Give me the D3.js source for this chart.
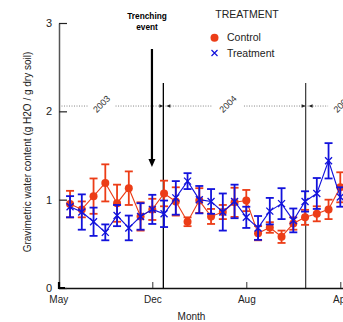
<!DOCTYPE html>
<html>
<head>
<meta charset="utf-8">
<script src="https://cdn.jsdelivr.net/npm/d3@7/dist/d3.min.js"></script>
<style>
  body { margin: 0; background: #fff; }
  svg { display: block; font-family: "Liberation Sans", Arial, sans-serif; }
</style>
</head>
<body>
<svg></svg>
<script>
// monthly samples, index 0 = Jun 2003
let control = [0.95, 0.89, 1.04, 1.19, 0.96, 1.13, 0.81, 0.89, 1.07, 0.98, 0.75, 0.99, 0.81, 0.86, 0.97, 0.99, 0.62, 0.685, 0.58, 0.73, 0.80, 0.84, 0.89, 1.14]
let controlErr = [0.15, 0.09, 0.20, 0.21, 0.21, 0.19, 0.16, 0.12, 0.145, 0.16, 0.05, 0.14, 0.085, 0.08, 0.165, 0.12, 0.08, 0.06, 0.07, 0.07, 0.085, 0.085, 0.11, 0.17]
let treatment = [0.92, 0.86, 0.75, 0.63, 0.82, 0.68, 0.81, 0.89, 0.84, 1.02, 1.21, 1.00, 0.98, 0.86, 0.98, 0.80, 0.68, 0.87, 0.955, 0.765, 0.98, 1.07, 1.44, 1.03]
let treatmentErr = [0.12, 0.20, 0.16, 0.09, 0.12, 0.14, 0.15, 0.165, 0.15, 0.19, 0.09, 0.155, 0.14, 0.21, 0.19, 0.12, 0.135, 0.15, 0.175, 0.135, 0.115, 0.175, 0.20, 0.11]

let monthTicks = [-1, 7, 15, 23]
let monthLabels = ['May', 'Dec', 'Aug', 'Apr']
let yTicks = [0, 1, 2, 3]

let yearLabels = ['2003', '2004', '2005']
let yearPos = [2.68, 13.44, 23.15]
let yearBreaks = [7.94, 20.05]
let yearLineValue = 2.06
let trenchIndex = 6.97

let width = 343
let height = 322
let red = '#ec3d17'
let blue = '#1212dc'
let svg = d3.select('svg')
let xScale, yScale

let drawCanvas = () => {
    svg.attr('width', width).attr('height', height)
}

let generateScales = () => {
    xScale = d3.scaleLinear()
        .domain([-1, 23.3])
        .range([58.3, 58.3 + 24.3 * 11.75])
    yScale = d3.scaleLinear()
        .domain([0, 3])
        .range([288, 23])
}

let generateAxes = () => {
    let xAxis = d3.axisBottom(xScale)
        .tickValues(monthTicks)
        .tickFormat((d, i) => monthLabels[i])
        .tickSizeInner(-6)
        .tickSizeOuter(0)
        .tickPadding(8)
    let yAxis = d3.axisLeft(yScale)
        .tickValues(yTicks)
        .tickFormat(d3.format('d'))
        .tickSizeInner(-8)
        .tickSizeOuter(0)
        .tickPadding(7)
    let gx = svg.append('g')
        .attr('transform', 'translate(0,288)')
        .call(xAxis)
    gx.select('.domain').attr('stroke', '#111').attr('stroke-width', 1.5)
    gx.selectAll('line').attr('stroke', '#333')
    gx.selectAll('text').attr('font-size', 10).attr('fill', '#222')
        .attr('font-family', '"Liberation Sans", Arial, sans-serif')
    let gy = svg.append('g')
        .attr('transform', 'translate(59,0)')
        .call(yAxis)
    gy.select('.domain').attr('stroke', '#555').attr('stroke-width', 1.5)
    gy.selectAll('line').attr('stroke', '#222').attr('stroke-width', 1.2)
    gy.selectAll('text').attr('font-size', 11).attr('fill', '#222')
        .attr('font-family', '"Liberation Sans", Arial, sans-serif')
    // thick corner at origin
    svg.append('path')
        .attr('d', 'M59,282 L59,288 L65,288')
        .attr('fill', 'none').attr('stroke', '#000').attr('stroke-width', 2.2)

    svg.append('text')
        .attr('transform', 'translate(31,152) rotate(-90)')
        .attr('text-anchor', 'middle')
        .attr('font-size', 10)
        .attr('fill', '#222')
        .text('Gravimetric water content (g H2O / g dry soil)')
    svg.append('text')
        .attr('x', 191.5).attr('y', 320)
        .attr('text-anchor', 'middle')
        .attr('font-size', 10)
        .attr('fill', '#222')
        .text('Month')
}

let drawYears = () => {
    let yy = yScale(yearLineValue)
    let gaps = yearPos.map((p, i) => [xScale(p) - (i == 1 ? 16 : 14), xScale(p) + (i == 1 ? 16 : 14)])
    let edges = [59].concat(yearBreaks.map((b) => xScale(b)))
    let segs = []
    edges.forEach((e, i) => {
        let end = i < yearBreaks.length ? xScale(yearBreaks[i]) : width
        let start = i == 0 ? e : e + 2
        let g = gaps[i]
        segs.push([start, Math.min(end, g[0])])
        if (g[1] < end) segs.push([g[1], end])
    })
    svg.selectAll('line.year')
        .data(segs)
        .enter()
        .append('line')
        .attr('class', 'year')
        .attr('x1', (d) => d[0]).attr('x2', (d) => d[1])
        .attr('y1', yy).attr('y2', yy)
        .attr('stroke', '#777').attr('stroke-width', 0.9)
        .attr('stroke-dasharray', '1,1.5')
    yearBreaks.forEach((b) => {
        let bx = xScale(b)
        svg.append('path')
            .attr('d', `M${bx - 4},${yy - 1.8} L${bx},${yy} L${bx - 4},${yy + 1.8} Z`)
            .attr('fill', '#222')
        svg.append('path')
            .attr('d', `M${bx + 7},${yy - 1.8} L${bx + 3},${yy} L${bx + 7},${yy + 1.8} Z`)
            .attr('fill', '#222')
    })
    svg.selectAll('text.year')
        .data(yearLabels)
        .enter()
        .append('text')
        .attr('class', 'year')
        .attr('transform', (d, i) => `translate(${xScale(yearPos[i])},${yy - 2}) rotate(-45)`)
        .attr('text-anchor', 'middle')
        .attr('dy', '0.35em')
        .attr('font-size', 9)
        .attr('fill', '#333')
        .text((d) => d)
}

let drawBreaks = () => {
    svg.selectAll('line.break')
        .data(yearBreaks)
        .enter()
        .append('line')
        .attr('class', 'break')
        .attr('x1', (d) => xScale(d)).attr('x2', (d) => xScale(d))
        .attr('y1', 83).attr('y2', 288)
        .attr('stroke', (d, i) => i == 0 ? '#000' : '#444')
        .attr('stroke-width', 1.3)

    let tx = xScale(trenchIndex)
    svg.append('line')
        .attr('x1', tx).attr('x2', tx)
        .attr('y1', 49).attr('y2', 160)
        .attr('stroke', '#000').attr('stroke-width', 2.2)
    svg.append('path')
        .attr('d', `M${tx - 3.5},${159} L${tx},${167} L${tx + 3.5},${159} Z`)
        .attr('fill', '#000')
    svg.append('text')
        .attr('x', 147).attr('y', 19)
        .attr('text-anchor', 'middle')
        .attr('font-size', 8.3).attr('font-weight', 'bold')
        .text('Trenching')
    svg.append('text')
        .attr('x', 147).attr('y', 29.5)
        .attr('text-anchor', 'middle')
        .attr('font-size', 8.3).attr('font-weight', 'bold')
        .text('event')
}

let drawSeries = (values, errs, color, marker) => {
    let g = svg.append('g')
    let line = d3.line()
        .x((d, i) => xScale(i))
        .y((d) => yScale(d))
    g.append('path')
        .datum(values)
        .attr('d', line)
        .attr('fill', 'none')
        .attr('stroke', color)
        .attr('stroke-width', 1.1)
    let bars = g.selectAll('g.err')
        .data(values)
        .enter()
        .append('g')
        .attr('class', 'err')
        .attr('stroke', color)
        .attr('stroke-width', 1.8)
    bars.append('line')
        .attr('x1', (d, i) => xScale(i)).attr('x2', (d, i) => xScale(i))
        .attr('y1', (d, i) => yScale(d + errs[i]))
        .attr('y2', (d, i) => yScale(d - errs[i]))
    bars.append('line')
        .attr('x1', (d, i) => xScale(i) - 4).attr('x2', (d, i) => xScale(i) + 4)
        .attr('y1', (d, i) => yScale(d + errs[i]))
        .attr('y2', (d, i) => yScale(d + errs[i]))
    bars.append('line')
        .attr('x1', (d, i) => xScale(i) - 4).attr('x2', (d, i) => xScale(i) + 4)
        .attr('y1', (d, i) => yScale(d - errs[i]))
        .attr('y2', (d, i) => yScale(d - errs[i]))
    if (marker == 'circle') {
        g.selectAll('circle')
            .data(values)
            .enter()
            .append('circle')
            .attr('cx', (d, i) => xScale(i))
            .attr('cy', (d) => yScale(d))
            .attr('r', 4)
            .attr('fill', color)
    } else {
        g.selectAll('path.mk')
            .data(values)
            .enter()
            .append('path')
            .attr('class', 'mk')
            .attr('d', (d, i) => {
                let cx = xScale(i), cy = yScale(d), s = 3.5
                return `M${cx - s},${cy - s}L${cx + s},${cy + s}M${cx - s},${cy + s}L${cx + s},${cy - s}`
            })
            .attr('stroke', color)
            .attr('stroke-width', 1.3)
    }
}

let drawLegend = () => {
    svg.append('text')
        .attr('x', 247).attr('y', 18)
        .attr('text-anchor', 'middle')
        .attr('font-size', 10.5)
        .attr('fill', '#222')
        .text('TREATMENT')
    svg.append('circle')
        .attr('cx', 214.5).attr('cy', 37.7).attr('r', 4)
        .attr('fill', red)
    svg.append('path')
        .attr('d', 'M211.5,50 L217.5,56 M211.5,56 L217.5,50')
        .attr('stroke', blue).attr('stroke-width', 1.2)
    svg.append('text')
        .attr('x', 227).attr('y', 41.3)
        .attr('font-size', 10.5).attr('fill', '#222')
        .text('Control')
    svg.append('text')
        .attr('x', 227).attr('y', 57)
        .attr('font-size', 10.5).attr('fill', '#222')
        .text('Treatment')
}

drawCanvas()
generateScales()
drawYears()
drawBreaks()
generateAxes()
drawSeries(control, controlErr, red, 'circle')
drawSeries(treatment, treatmentErr, blue, 'x')
drawLegend()
</script>
</body>
</html>
